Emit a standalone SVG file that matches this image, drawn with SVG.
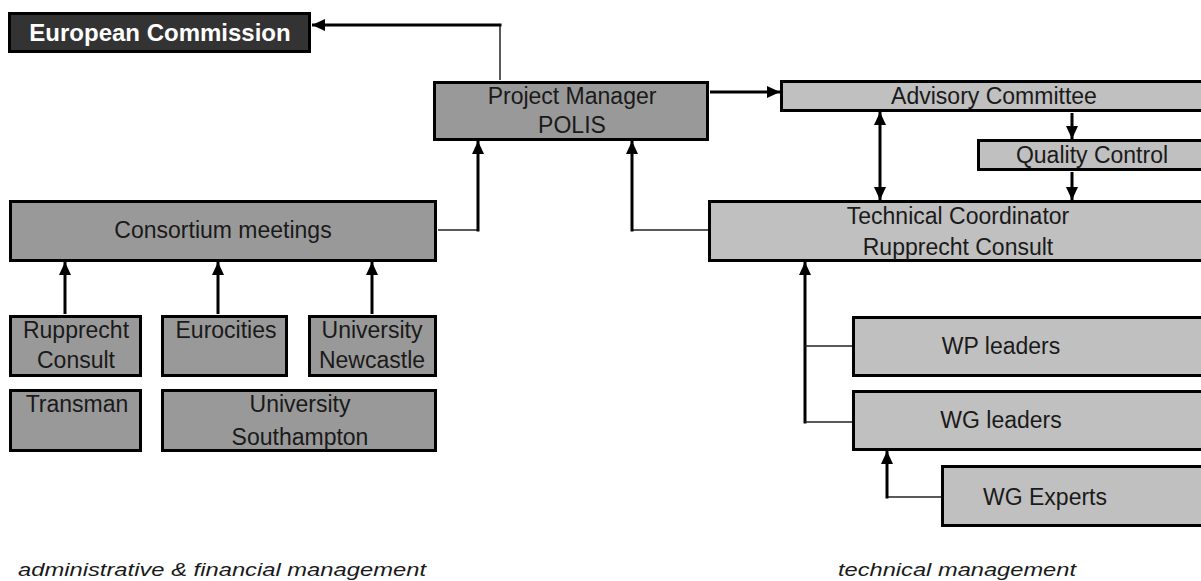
<svg xmlns="http://www.w3.org/2000/svg" width="1201" height="581" viewBox="0 0 1201 581">
<defs>
<style>
.box{stroke:#000;stroke-width:3}
.dark{fill:#333}
.mid{fill:#999}
.light{fill:#c0c0c0}
.t{font-family:"Liberation Sans",Arial,sans-serif;font-size:23px;fill:#1a1a1a;text-anchor:middle}
.ec{font-family:"Liberation Sans",Arial,sans-serif;font-size:24px;font-weight:bold;fill:#fff;text-anchor:middle}
.foot{font-family:"Liberation Sans",Arial,sans-serif;font-size:19px;font-style:italic;fill:#1a1a1a}
.thick{stroke:#000;stroke-width:3;fill:none}
.thin{stroke:#222;stroke-width:1.5;fill:none}
.arr{marker-end:url(#ah)}
.both{marker-end:url(#ah);marker-start:url(#ah)}
</style>
<marker id="ah" markerUnits="userSpaceOnUse" markerWidth="13" markerHeight="12" refX="13" refY="6" orient="auto-start-reverse">
<path d="M0,0 L13,6 L0,12 z" fill="#000"/>
</marker>
</defs>
<rect width="1201" height="581" fill="#fff"/>

<g id="connectors">
<path class="thin" d="M500,80 V25"/>
<path class="thick arr" d="M501.5,25 H312"/>
<path class="thick arr" d="M710,92 H780"/>
<path class="thick arr" d="M1072,113 V139"/>
<path class="thick arr" d="M1072,172 V200"/>
<path class="thick both" d="M880,112 V200"/>
<path class="thin" d="M438,230 H478"/>
<path class="thick arr" d="M478,231.5 V141"/>
<path class="thin" d="M708,230 H632"/>
<path class="thick arr" d="M632,231.5 V141"/>
<path class="thick arr" d="M65,314 V262"/>
<path class="thick arr" d="M218,314 V262"/>
<path class="thick arr" d="M372,314 V262"/>
<path class="thick arr" d="M805,423.5 V262"/>
<path class="thin" d="M852,346 H805"/>
<path class="thin" d="M852,422 H805"/>
<path class="thin" d="M941,497 H887"/>
<path class="thick arr" d="M887,498.5 V451"/>
</g>

<g id="european-commission">
<rect class="box dark" x="9.5" y="13.5" width="300" height="38"/>
<text class="ec" x="160" y="41">European Commission</text>
</g>

<g id="project-manager">
<rect class="box mid" x="434.5" y="82.5" width="273" height="57"/>
<text class="t" x="572" y="104">Project Manager</text>
<text class="t" x="572" y="133">POLIS</text>
</g>

<g id="advisory-committee">
<rect class="box light" x="781.5" y="81.5" width="425" height="29"/>
<text class="t" x="994" y="104">Advisory Committee</text>
</g>

<g id="quality-control">
<rect class="box light" x="978.5" y="140.5" width="228" height="29"/>
<text class="t" x="1092" y="163">Quality Control</text>
</g>

<g id="technical-coordinator">
<rect class="box light" x="709.5" y="201.5" width="497" height="59"/>
<text class="t" x="958" y="224">Technical Coordinator</text>
<text class="t" x="958" y="255">Rupprecht Consult</text>
</g>

<g id="consortium-meetings">
<rect class="box mid" x="10.5" y="201.5" width="425" height="59"/>
<text class="t" x="223" y="238">Consortium meetings</text>
</g>

<g id="rupprecht-consult">
<rect class="box mid" x="10.5" y="316.5" width="130" height="59"/>
<text class="t" x="76" y="338">Rupprecht</text>
<text class="t" x="76" y="368">Consult</text>
</g>

<g id="eurocities">
<rect class="box mid" x="162.5" y="316.5" width="124" height="59"/>
<text class="t" x="226" y="338">Eurocities</text>
</g>

<g id="university-newcastle">
<rect class="box mid" x="309.5" y="316.5" width="126" height="59"/>
<text class="t" x="372" y="338">University</text>
<text class="t" x="372" y="368">Newcastle</text>
</g>

<g id="transman">
<rect class="box mid" x="10.5" y="390.5" width="130" height="60"/>
<text class="t" x="77" y="412">Transman</text>
</g>

<g id="university-southampton">
<rect class="box mid" x="162.5" y="390.5" width="273" height="60"/>
<text class="t" x="300" y="412">University</text>
<text class="t" x="300" y="445">Southampton</text>
</g>

<g id="wp-leaders">
<rect class="box light" x="853.5" y="317.5" width="353" height="58"/>
<text class="t" x="1001" y="354">WP leaders</text>
</g>

<g id="wg-leaders">
<rect class="box light" x="853.5" y="391.5" width="353" height="58"/>
<text class="t" x="1001" y="428">WG leaders</text>
</g>

<g id="wg-experts">
<rect class="box light" x="942.5" y="466.5" width="264" height="59"/>
<text class="t" x="1045" y="505">WG Experts</text>
</g>

<g id="labels">
<text class="foot" x="18" y="576" textLength="408" lengthAdjust="spacingAndGlyphs">administrative &amp; financial management</text>
<text class="foot" x="838" y="576" textLength="238" lengthAdjust="spacingAndGlyphs">technical management</text>
</g>
</svg>
